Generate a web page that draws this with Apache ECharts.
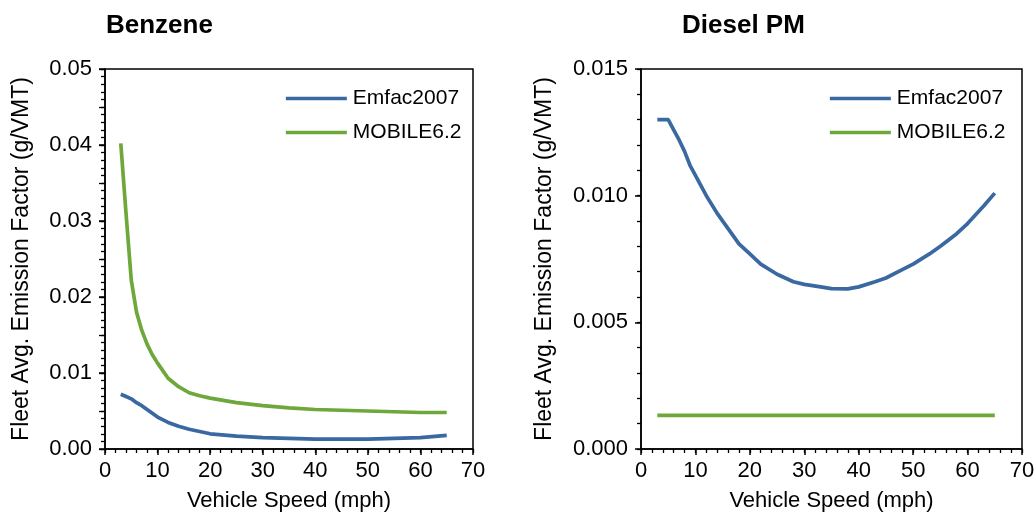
<!DOCTYPE html>
<html><head><meta charset="utf-8">
<script src="https://cdn.jsdelivr.net/npm/echarts@6/dist/echarts.min.js"></script>
<style>html,body{margin:0;padding:0;background:#fff}#c{width:1034px;height:521px}</style>
</head><body><div id="c"></div>
<script>
const xTicks = [0, 10, 20, 30, 40, 50, 60, 70];
const benzeneSpeeds = [3,4,5,6,7,8,9,10,12,14,16,18,20,25,30,35,40,45,50,55,60,65];
const benzeneEmfac = [0.0072,0.0069,0.0066,0.0061,0.0057,0.0052,0.0047,0.0042,0.0035,0.0030,0.0026,0.0023,0.0020,0.0017,0.0015,0.0014,0.0013,0.0013,0.0013,0.0014,0.0015,0.0018];
const benzeneMobile = [0.0402,0.0310,0.0222,0.0180,0.0156,0.0138,0.0124,0.0113,0.0093,0.0082,0.0074,0.0070,0.0067,0.0061,0.0057,0.0054,0.0052,0.0051,0.0050,0.0049,0.0048,0.0048];
const dieselSpeeds = [3,4,5,6,7,8,9,10,12,14,16,18,20,22,25,28,30,33,35,38,40,43,45,48,50,53,55,58,60,63,65];
const dieselEmfac = [0.0130,0.0130,0.0130,0.0126,0.0122,0.01175,0.0112,0.0108,0.0100,0.0093,0.0087,0.0081,0.0077,0.0073,0.0069,0.0066,0.0065,0.0064,0.00633,0.00632,0.0064,0.0066,0.00675,0.00708,0.0073,0.0077,0.0080,0.0085,0.0089,0.0096,0.0101];
const dieselMobileSpeeds = [3, 65];
const dieselMobile = [0.00133, 0.00133];
const seriesNames = ['Emfac2007', 'MOBILE6.2'];
const titles = ['Benzene', 'Diesel PM'];
const xName = 'Vehicle Speed (mph)';
const yName = 'Fleet Avg. Emission Factor (g/VMT)';

const BLUE = '#3A68A0', GREEN = '#6FA83A';
const FONT = '"Liberation Sans", Arial, sans-serif';
const pairs = (xs, ys) => xs.map((x, i) => [x, ys[i]]);
const BLACK = { color: '#000', width: 1.5 };

function xAxis(gi) {
  return {
    type: 'value', gridIndex: gi, position: 'bottom', min: 0, max: 70, interval: 10,
    name: xName, nameLocation: 'middle', nameGap: 41,
    nameTextStyle: { color: '#000', fontSize: 22, fontFamily: FONT },
    axisLine: { show: true, lineStyle: BLACK },
    axisTick: { show: true, inside: false, length: 6, lineStyle: BLACK },
    axisLabel: { color: '#000', fontSize: 22, fontFamily: FONT, margin: 11,
      formatter: v => xTicks.includes(v) ? String(v) : '' },
    splitLine: { show: false }
  };
}
function tickX(gi, interval, len) {
  return {
    type: 'value', gridIndex: gi, position: 'bottom', offset: 0, min: 0, max: 70, interval: interval,
    axisLine: { show: false }, axisLabel: { show: false }, splitLine: { show: false },
    axisTick: { show: true, inside: false, length: len, lineStyle: { color: '#000', width: 1.3 } }
  };
}
function yAxis(gi, max, interval, dec, gap) {
  return {
    type: 'value', gridIndex: gi, position: 'left', min: 0, max: max, interval: interval,
    name: yName, nameLocation: 'middle', nameGap: gap, nameRotate: 90,
    nameTextStyle: { color: '#000', fontSize: 23, fontFamily: FONT },
    axisLine: { show: true, lineStyle: BLACK },
    axisTick: { show: true, inside: false, length: 6, lineStyle: BLACK },
    axisLabel: { color: '#000', fontSize: 22, fontFamily: FONT, margin: 13,
      formatter: v => v.toFixed(dec) },
    splitLine: { show: false }
  };
}
function tickY(gi, max, interval, len) {
  return {
    type: 'value', gridIndex: gi, position: 'left', offset: 0, min: 0, max: max, interval: interval,
    axisLine: { show: false }, axisLabel: { show: false }, splitLine: { show: false },
    axisTick: { show: true, inside: false, length: len, lineStyle: { color: '#000', width: 1.3 } }
  };
}
function legend(left) {
  return {
    orient: 'vertical', left: left, top: 88, padding: 0,
    itemWidth: 61, itemHeight: 14, itemGap: 13,
    itemStyle: { opacity: 0 },
    lineStyle: { width: 3.7 },
    textStyle: { color: '#000', fontSize: 21, fontFamily: FONT, padding: [0, 0, 0, 1] },
    data: seriesNames
  };
}
function line(name, data, gi, color) {
  return {
    type: 'line', name: name, xAxisIndex: gi, yAxisIndex: gi, data: data,
    symbol: 'none', showSymbol: false, smooth: false, animation: false,
    lineStyle: { color: color, width: 3.7 }, itemStyle: { color: color }
  };
}

const chart = echarts.init(document.getElementById('c'), null, { renderer: 'canvas' });
chart.setOption({
  animation: false,
  backgroundColor: '#fff',
  title: [
    { text: titles[0], left: 101, top: 8, textStyle: { color: '#000', fontSize: 26, fontWeight: 'bold', fontFamily: FONT } },
    { text: titles[1], left: 677, top: 8, textStyle: { color: '#000', fontSize: 26, fontWeight: 'bold', fontFamily: FONT } }
  ],
  grid: [
    { left: 105, top: 69, width: 368, height: 380, containLabel: false, outerBoundsMode: 'none', show: true, borderColor: '#000', borderWidth: 1.5, backgroundColor: 'transparent' },
    { left: 641, top: 69, width: 381, height: 380, containLabel: false, outerBoundsMode: 'none', show: true, borderColor: '#000', borderWidth: 1.5, backgroundColor: 'transparent' }
  ],
  legend: [legend(284), legend(828)],
  xAxis: [xAxis(0), xAxis(1), tickX(0, 2, 4), tickX(1, 2, 4)],
  yAxis: [
    yAxis(0, 0.05, 0.01, 2, 72), yAxis(1, 0.015, 0.005, 3, 85),
    tickY(0, 0.05, 0.001, 4), tickY(0, 0.05, 0.005, 6), tickY(1, 0.015, 0.001, 4)
  ],
  series: [
    line(seriesNames[0], pairs(benzeneSpeeds, benzeneEmfac), 0, BLUE),
    line(seriesNames[1], pairs(benzeneSpeeds, benzeneMobile), 0, GREEN),
    line(seriesNames[0], pairs(dieselSpeeds, dieselEmfac), 1, BLUE),
    line(seriesNames[1], pairs(dieselMobileSpeeds, dieselMobile), 1, GREEN)
  ]
});
</script></body></html>
